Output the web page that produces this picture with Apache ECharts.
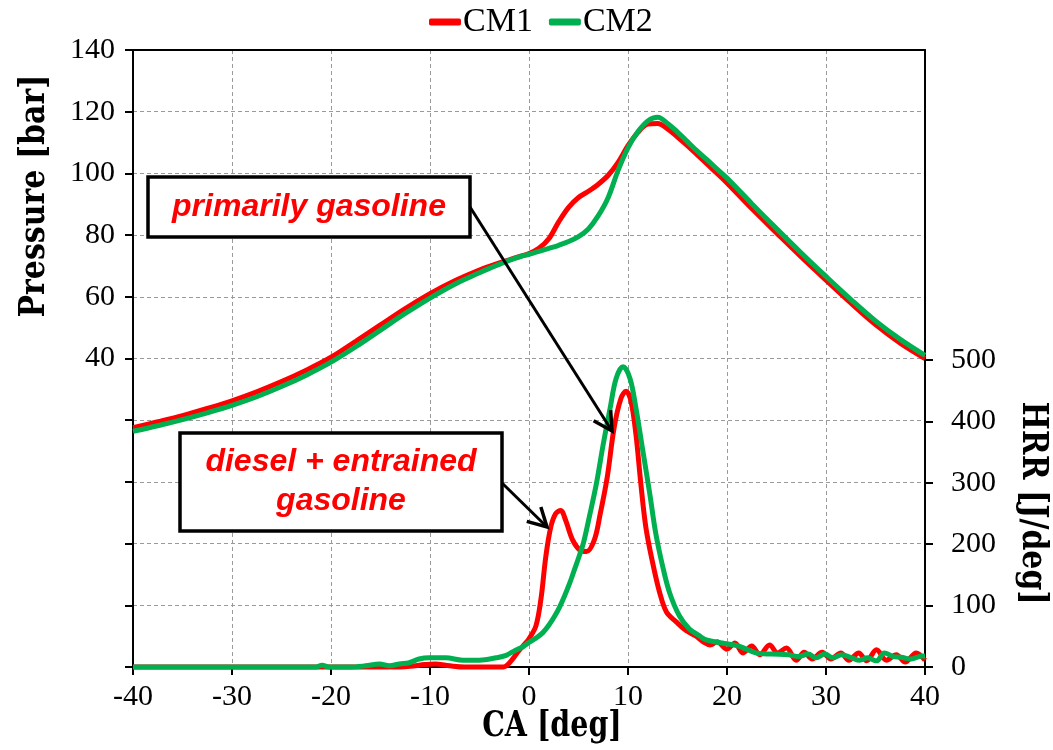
<!DOCTYPE html>
<html>
<head>
<meta charset="utf-8">
<script src="https://cdn.jsdelivr.net/npm/echarts@6/dist/echarts.min.js"></script>
<style>
html,body{margin:0;padding:0;background:#fff;}
#chart{width:1053px;height:750px;}
</style>
</head>
<body>
<div id="chart"></div>
<script>
// ---- Data ----
const seriesNames = ['CM1', 'CM2'];
const xTicks = [-40, -30, -20, -10, 0, 10, 20, 30, 40];

// Pressure [bar] vs CA [deg]
const caP = [-40, -37.5, -35, -32.5, -30, -27.5, -25, -22.5, -20, -17.5, -15, -12.5, -10, -7.5, -5,
  -4, -3, -2, -1, 0, 1, 2, 3, 4, 5, 6, 7, 8, 9, 10, 11, 12, 13, 14, 15, 16, 17, 18, 19, 20,
  22.5, 25, 27.5, 30, 32.5, 35, 37.5, 40];
const cm1Pressure = [17.6, 19.5, 21.5, 23.8, 26.3, 29.2, 32.5, 36.2, 40.4, 45.6, 50.9, 56.2, 61.0, 65.2, 68.7,
  69.9, 71.0, 72.0, 73.0, 74.0, 75.7, 78.8, 84.3, 89.0, 92.2, 94.2, 96.5, 99.4, 103.6, 109.0, 113.3, 116.0, 116.2, 114.4, 111.8, 109.0, 106.0, 103.0, 100.0, 96.9,
  88.6, 80.7, 72.9, 65.4, 58.0, 51.0, 45.0, 40.0];
const cm2Pressure = [16.4, 18.2, 20.2, 22.4, 24.8, 27.6, 30.9, 34.6, 38.8, 43.8, 49.2, 54.6, 59.6, 64.1, 67.8,
  69.2, 70.5, 71.8, 72.9, 73.8, 74.7, 75.7, 76.7, 77.9, 79.5, 82.0, 86.3, 92.2, 101.0, 108.3, 113.5, 117.0, 118.2, 116.2, 113.4, 110.3, 107.2, 104.4, 101.4, 98.5,
  90.2, 82.1, 74.2, 66.6, 59.2, 52.2, 46.2, 41.0];

// HRR [J/deg] vs CA [deg]
const caHrr1 = [-40, -20, -15, -13, -12, -10.5, -9.5, -8, -6.5, -4, -2.6, -2.2, -1.6, -1.0, -0.4, 0, 0.7, 1.2, 1.7, 2.2, 2.7, 3.2, 3.7, 4.4, 5.1, 5.8, 6.6, 7.2, 7.9, 8.6, 9.3, 9.8, 10.3, 10.8, 11.3, 11.8, 12.5, 13.2, 13.9, 14.9, 15.9, 16.8, 17.6, 18.3, 19.0, 20.0, 20.8, 21.6, 22.5, 23.3, 24.3, 25.1, 26.0, 27.0, 27.8, 28.6, 29.6, 30.5, 31.5, 32.3, 33.3, 34.1, 35.1, 36.1, 37.1, 38.0, 39.1, 40];
const cm1Hrr = [0, 0, 0, 0, 1, 4, 5, 2, 0, 0, 0, 3, 14, 27, 38, 46, 67, 110, 180, 228, 250, 255, 239, 207, 191, 188, 207, 250, 309, 390, 438, 449, 433, 379, 298, 228, 169, 121, 89, 73, 59, 51, 41, 36, 41, 29, 39, 23, 34, 20, 36, 23, 31, 11, 24, 13, 24, 13, 23, 11, 23, 10, 28, 11, 20, 8, 23, 11];

const caHrr2 = [-40, -21.5, -20.9, -20.2, -18, -16.5, -15.1, -14.1, -13.1, -12.1, -11.1, -10.1, -8.4, -6.7, -5.0, -3.3, -2.3, -1.4, -0.6, 0, 0.7, 1.4, 2.0, 2.6, 3.1, 3.6, 4.1, 4.6, 5.1, 5.5, 6.1, 6.8, 7.5, 8.2, 8.8, 9.5, 10.2, 10.8, 11.5, 12.2, 12.8, 13.5, 14.2, 15.2, 16.2, 17.2, 17.9, 19.5, 21.2, 22.9, 24.5, 26.2, 27.2, 28.2, 29.0, 29.9, 30.7, 31.6, 32.6, 33.4, 34.2, 35.1, 35.9, 36.8, 37.6, 38.6, 39.7, 40];
const cm2Hrr = [0, 0, 3, 0, 0, 2, 5, 2, 5, 7, 13, 15, 15, 11, 11, 15, 19, 27, 33, 40, 47, 56, 68, 83, 98, 116, 136, 159, 182, 202, 245, 298, 363, 422, 470, 489, 470, 422, 352, 282, 218, 164, 121, 83, 62, 51, 44, 39, 34, 23, 21, 20, 17, 21, 15, 21, 15, 20, 15, 11, 15, 10, 23, 17, 16, 13, 18, 18];

// Annotations
const annotations = [
  { lines: ['primarily gasoline'], box: [148, 177, 322, 60], arrow: [[470, 207], [612, 431]] },
  { lines: ['diesel + entrained', 'gasoline'], box: [180, 433, 322, 98], arrow: [[502, 483], [547, 527]] }
];

// ---- Helpers ----
function zip(xs, ys) { return xs.map((x, i) => [x, ys[i]]); }

const RED = '#FF0000';
const GREEN = '#00B050';
const tickFont = 'Liberation Serif';
const titleFont = 'DejaVu Serif';

const chart = echarts.init(document.getElementById('chart'), null, { renderer: 'canvas' });

const graphics = [];
annotations.forEach(a => {
  const [bx, by, bw, bh] = a.box;
  graphics.push({
    type: 'rect', z: 100,
    shape: { x: bx, y: by, width: bw, height: bh },
    style: { fill: '#fff', stroke: '#000', lineWidth: 3.5 }
  });
  const lh = 39;
  const cy = by + bh / 2 - (a.lines.length - 1) * lh / 2;
  a.lines.forEach((t, i) => {
    graphics.push({
      type: 'text', z: 101,
      x: bx + bw / 2, y: cy + i * lh,
      style: {
        text: t, fill: RED,
        font: 'italic bold 32px "Liberation Sans", Arial, sans-serif',
        textAlign: 'center', textVerticalAlign: 'middle'
      }
    });
  });
  const [p0, p1] = a.arrow;
  graphics.push({
    type: 'line', z: 100,
    shape: { x1: p0[0], y1: p0[1], x2: p1[0], y2: p1[1] },
    style: { stroke: '#000', lineWidth: 3 }
  });
  const ang = Math.atan2(p1[1] - p0[1], p1[0] - p0[0]);
  const L = 21, spread = 0.5;
  const w1 = [p1[0] - L * Math.cos(ang - spread), p1[1] - L * Math.sin(ang - spread)];
  const w2 = [p1[0] - L * Math.cos(ang + spread), p1[1] - L * Math.sin(ang + spread)];
  graphics.push({
    type: 'polyline', z: 100,
    shape: { points: [w1, p1, w2] },
    style: { stroke: '#000', lineWidth: 3.5, fill: null, lineJoin: 'miter' }
  });
});

// Axis titles
const titleStyle = t => ({ text: t, fill: '#000', font: 'bold 30px "' + titleFont + '", serif', textAlign: 'center', textVerticalAlign: 'middle' });
graphics.push({ type: 'text', x: 35, y: 196, rotation: Math.PI / 2, scaleY: 1.2, style: titleStyle('Pressure [bar]') });
graphics.push({ type: 'text', x: 1032, y: 503, rotation: -Math.PI / 2, scaleY: 1.2, style: titleStyle('HRR [J/deg]') });
graphics.push({ type: 'text', x: 552, y: 727, scaleX: 0.95, scaleY: 1.15, style: titleStyle('CA [deg]') });

const splitDash = { show: true, lineStyle: { color: '#9a9a9a', type: [4, 3], width: 1 } };
const blackLine = { show: true, onZero: false, lineStyle: { color: '#000', width: 2 } };
const blackTick = { show: true, inside: false, length: 8, lineStyle: { color: '#000', width: 2 } };
const labelStyle = { fontFamily: tickFont, fontSize: 30, color: '#000' };

const option = {
  animation: false,
  backgroundColor: '#fff',
  legend: {
    data: seriesNames,
    top: 0, left: 424,
    icon: 'roundRect', itemWidth: 32, itemHeight: 7, itemGap: 16,
    textStyle: { fontFamily: tickFont, fontSize: 34, color: '#000', padding: [0, 0, 0, -3] }
  },
  grid: [
    { left: 133, right: 128, top: 50, bottom: 83 },
    { left: 133, right: 128, top: 360, bottom: 83 }
  ],
  xAxis: [
    {
      type: 'value', gridIndex: 0, min: -40, max: 40, interval: 10,
      axisLine: blackLine, axisTick: blackTick,
      axisLabel: Object.assign({ margin: 15, formatter: v => (xTicks.indexOf(v) >= 0 ? String(v) : '') }, labelStyle),
      splitLine: splitDash
    },
    { type: 'value', gridIndex: 1, min: -40, max: 40, interval: 10, show: false },
    {
      type: 'value', gridIndex: 0, position: 'top', min: -40, max: 40, interval: 10,
      axisLine: blackLine, axisTick: { show: false }, axisLabel: { show: false }, splitLine: { show: false }
    }
  ],
  yAxis: [
    {
      type: 'value', gridIndex: 0, position: 'left', min: -60, max: 140, interval: 20,
      axisLine: blackLine, axisTick: blackTick,
      axisLabel: Object.assign({ margin: 18, formatter: v => (v >= 40 ? String(v) : '') }, labelStyle),
      splitLine: splitDash
    },
    {
      type: 'value', gridIndex: 1, position: 'right', min: 0, max: 500, interval: 100,
      axisLine: blackLine, axisTick: blackTick,
      axisLabel: Object.assign({ margin: 26 }, labelStyle),
      splitLine: { show: false }
    },
    {
      type: 'value', gridIndex: 0, position: 'right', min: 0, max: 100, interval: 20,
      axisLine: blackLine, axisTick: { show: false }, axisLabel: { show: false }, splitLine: { show: false }
    }
  ],
  series: [
    { name: 'CM1', type: 'line', xAxisIndex: 0, yAxisIndex: 0, data: zip(caP, cm1Pressure),
      smooth: 0.35, showSymbol: false, symbol: 'none', color: RED, lineStyle: { color: RED, width: 5 }, z: 3 },
    { name: 'CM2', type: 'line', xAxisIndex: 0, yAxisIndex: 0, data: zip(caP, cm2Pressure),
      smooth: 0.35, showSymbol: false, symbol: 'none', color: GREEN, lineStyle: { color: GREEN, width: 5 }, z: 4 },
    { name: 'CM1', type: 'line', xAxisIndex: 1, yAxisIndex: 1, data: zip(caHrr1, cm1Hrr),
      smooth: 0.35, showSymbol: false, symbol: 'none', clip: false, color: RED, lineStyle: { color: RED, width: 5 }, z: 3 },
    { name: 'CM2', type: 'line', xAxisIndex: 1, yAxisIndex: 1, data: zip(caHrr2, cm2Hrr),
      smooth: 0.35, showSymbol: false, symbol: 'none', clip: false, color: GREEN, lineStyle: { color: GREEN, width: 5 }, z: 4 }
  ],
  graphic: graphics
};

chart.setOption(option);
</script>
</body>
</html>
